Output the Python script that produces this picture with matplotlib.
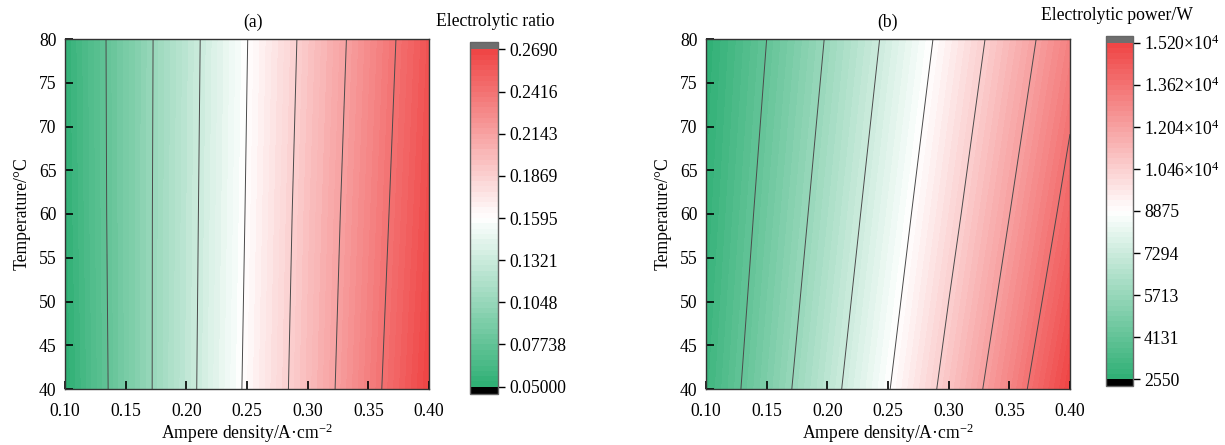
import numpy as np
import matplotlib
matplotlib.use('Agg')
from matplotlib import pyplot as plt
from matplotlib.colors import LinearSegmentedColormap

plt.rcParams['font.family'] = ['Liberation Serif', 'DejaVu Serif']
plt.rcParams['mathtext.fontset'] = 'custom'
plt.rcParams['mathtext.rm'] = 'Liberation Serif'
plt.rcParams['mathtext.it'] = 'Liberation Serif:italic'
plt.rcParams['font.size'] = 12.7

# data
current_density = [0.10, 0.15, 0.20, 0.25, 0.30, 0.35, 0.40]
temperature = [40, 60, 80]

ratio = [
    [0.0500, 0.0885, 0.1258, 0.1626, 0.1982, 0.2338, 0.2690],  # 40 C
    [0.0521, 0.0889, 0.1250, 0.1607, 0.1959, 0.2301, 0.2639],  # 60 C
    [0.0533, 0.0889, 0.1241, 0.1591, 0.1929, 0.2264, 0.2598],  # 80 C
]
power = [
    [3055, 4924, 6827, 8800, 10866, 12955, 15200],
    [2769, 4506, 6275, 8134, 10055, 12025, 14063],
    [2550, 4131, 5799, 7532, 9343, 11205, 13092],
]

ratio_ticks = [0.05000, 0.07738, 0.1048, 0.1321, 0.1595, 0.1869, 0.2143, 0.2416, 0.2690]
ratio_labels = ['0.05000', '0.07738', '0.1048', '0.1321', '0.1595', '0.1869', '0.2143', '0.2416', '0.2690']
power_ticks = [2550, 4131, 5713, 7294, 8875, 10460, 12040, 13620, 15200]
power_labels = ['2550', '4131', '5713', '7294', '8875',
                r'1.046×10$^{4}$', r'1.204×10$^{4}$', r'1.362×10$^{4}$', r'1.520×10$^{4}$']

cmap = LinearSegmentedColormap.from_list('gwr', ['#2eaf74', '#ffffff', '#ef4545'])
cmap.set_under('black')
cmap.set_over('#6e6e6e')

W, H = 1225, 445
fig = plt.figure(figsize=(W / 100, H / 100), dpi=100)


def px(x0, y0, x1, y1):
    return [x0 / W, 1 - y1 / H, (x1 - x0) / W, (y1 - y0) / H]


def panel(ax_box, cax_box, z, ticks, labels, tag, tag_x, cb_title, cb_title_xy):
    ax = fig.add_axes(px(*ax_box))
    lo, hi = ticks[0], ticks[-1]
    levels = np.linspace(lo, hi, 65)
    cs = ax.contourf(current_density, temperature, z, levels=levels, cmap=cmap, extend='both')
    ax.contour(current_density, temperature, z, levels=ticks[1:-1], colors='#4a4a4a', linewidths=0.7)
    ax.set_xlim(0.10, 0.40)
    ax.set_ylim(40, 80)
    ax.set_xticks(np.arange(0.10, 0.401, 0.05))
    ax.set_xticklabels(['0.10', '0.15', '0.20', '0.25', '0.30', '0.35', '0.40'])
    ax.set_yticks(range(40, 81, 5))
    ax.tick_params(direction='in', length=6, width=1.2, colors='black')
    ax.tick_params(axis='x', pad=10)
    ax.tick_params(axis='y', pad=6)
    for s in ax.spines.values():
        s.set_linewidth(1.0)
        s.set_color('#333333')
    ax.set_xlabel(r'Ampere density/A·cm$^{\mathrm{-2}}$', labelpad=1)
    ax.set_ylabel('Temperature/°C', labelpad=6)
    fig.text(tag_x / W, 1 - 22 / H, tag, ha='center', va='center')

    cax = fig.add_axes(px(*cax_box))
    cb = fig.colorbar(cs, cax=cax, extendrect=True, extendfrac=0.021)
    cb.set_ticks(ticks)
    cb.set_ticklabels(labels)
    cb.ax.tick_params(direction='out', length=5, width=1, pad=3)
    cb.outline.set_edgecolor('#666666')
    cb.outline.set_linewidth(1.0)
    fig.text(cb_title_xy[0] / W, 1 - cb_title_xy[1] / H, cb_title, ha='center', va='center')


panel((65, 39, 429, 389), (470, 42.3, 498, 393.7), ratio, ratio_ticks, ratio_labels,
      '(a)', 253, 'Electrolytic ratio', (495.5, 21.7))
panel((706, 39, 1070, 389), (1106, 35.7, 1133, 386.3), power, power_ticks, power_labels,
      '(b)', 888, 'Electrolytic power/W', (1117, 15))

fig.savefig('out.png', dpi=100)
